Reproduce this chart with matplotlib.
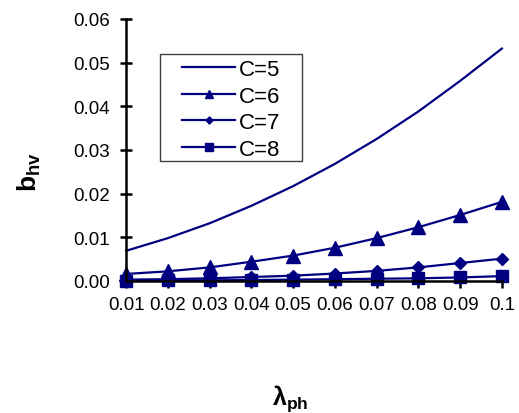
import numpy as np
import matplotlib
matplotlib.use('Agg')
import matplotlib.pyplot as plt
from matplotlib.patches import Rectangle

plt.rcParams['font.family'] = ['Liberation Sans', 'DejaVu Sans']
plt.rcParams['mathtext.fontset'] = 'custom'
plt.rcParams['mathtext.rm'] = 'Liberation Sans'
plt.rcParams['mathtext.bf'] = 'Liberation Sans:bold'

# lambda_ph values
lam = [0.01, 0.02, 0.03, 0.04, 0.05, 0.06, 0.07, 0.08, 0.09, 0.1]
tick_labels = ['0.01', '0.02', '0.03', '0.04', '0.05', '0.06', '0.07', '0.08', '0.09', '0.1']

# b_hv for each C
c5 = [0.0069, 0.0098, 0.0132, 0.0172, 0.0217, 0.0268, 0.0325, 0.0388, 0.0458, 0.0532]
c6 = [0.0016, 0.0022, 0.0031, 0.0044, 0.0058, 0.0076, 0.0098, 0.0123, 0.0151, 0.0181]
c7 = [0.0003, 0.0004, 0.0006, 0.0009, 0.0012, 0.0017, 0.0023, 0.0031, 0.0041, 0.0051]
c8 = [0.00005, 0.0001, 0.00015, 0.0002, 0.0003, 0.0004, 0.0005, 0.0006, 0.0008, 0.0011]

navy = '#000080'

fig = plt.figure(figsize=(5.19, 4.14), dpi=100)
ax = fig.add_axes([0.243, 0.319, 0.724, 0.633])

ax.plot(lam, c5, '-', color=navy, lw=1.6, label='C=5', clip_on=False)
ax.plot(lam, c6, '-^', color=navy, lw=1.6, ms=10, label='C=6', clip_on=False)
ax.plot(lam, c7, '-D', color=navy, lw=1.6, ms=6, label='C=7', clip_on=False)
ax.plot(lam, c8, '-s', color=navy, lw=1.6, ms=9, label='C=8', clip_on=False)

ax.set_xlim(0.01, 0.1)
ax.set_ylim(0, 0.06)
ax.set_xticks(lam)
ax.set_xticklabels(tick_labels)
ax.set_yticks(np.arange(0, 0.061, 0.01))
ax.set_yticklabels(['%.2f' % v for v in np.arange(0, 0.061, 0.01)])

for s in ['top', 'right']:
    ax.spines[s].set_visible(False)
ax.spines['left'].set_linewidth(1.8)
ax.spines['bottom'].set_linewidth(1.8)
ax.tick_params(axis='y', direction='inout', length=9, width=1.8, labelsize=13.5, pad=7)
ax.tick_params(axis='x', direction='out', length=5, width=1.8, labelsize=13.5, pad=6)

ax.set_ylabel(r'$\mathbf{b_{hv}}$', fontsize=19)
ax.yaxis.set_label_coords(-0.221, 0.42)
ax.set_xlabel(r'$\mathbf{\lambda_{ph}}$', fontsize=18)
ax.xaxis.set_label_coords(0.436, -0.385)

# legend box drawn separately (Excel style, wide right margin)
ax.add_patch(Rectangle((0.090, 0.458), 0.378, 0.408, transform=ax.transAxes,
                       facecolor='white', edgecolor='#404040', lw=1.0, zorder=4))
leg = ax.legend(loc='upper left', bbox_to_anchor=(0.149, 0.847), fontsize=16,
                frameon=False, markerscale=0.6, handlelength=2.4,
                handletextpad=0.15, labelspacing=0.25, borderpad=0,
                borderaxespad=0)
leg.set_zorder(5)

fig.savefig('out.png', dpi=100)
